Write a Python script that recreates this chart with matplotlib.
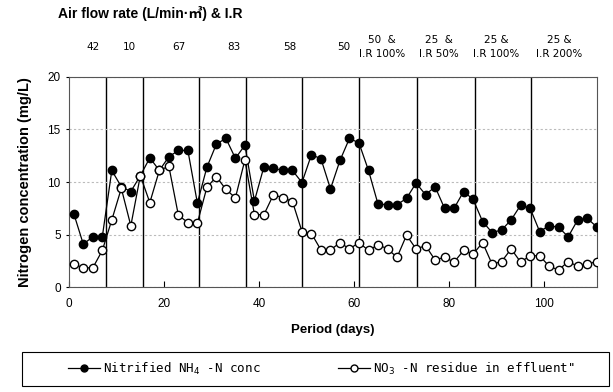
import matplotlib
matplotlib.use('Agg')
import matplotlib.pyplot as plt
from matplotlib.patches import Rectangle
from matplotlib.transforms import blended_transform_factory

plt.rcParams['font.family'] = ['Liberation Sans', 'Noto Sans CJK KR']

# sampling days (every 2 days)
dias = list(range(1, 112, 2))

# Nitrified NH4-N (filled)
nh4 = [7.0, 4.1, 4.8, 4.8, 11.1, 9.55, 9.1, 10.6, 12.3, 11.1,
       12.4, 13.0, 13.0, 8.0, 11.4, 13.6, 14.15, 12.25, 13.5, 8.2,
       11.45, 11.3, 11.1, 11.1, 9.95, 12.6, 12.2, 9.35, 12.05, 14.15,
       13.7, 11.1, 7.9, 7.85, 7.85, 8.45, 9.9, 8.8, 9.55, 7.5,
       7.5, 9.1, 8.35, 6.25, 5.2, 5.45, 6.4, 7.8, 7.5, 5.3,
       5.85, 5.7, 4.8, 6.4, 6.55, 5.75]

# NO3-N residue (open)
no3 = [2.2, 1.85, 1.85, 3.5, 6.4, 9.4, 5.85, 10.6, 8.05, 11.1,
       11.5, 6.85, 6.15, 6.1, 9.5, 10.5, 9.3, 8.5, 12.1, 6.9,
       6.9, 8.8, 8.5, 8.15, 5.3, 5.1, 3.55, 3.55, 4.25, 3.65,
       4.25, 3.5, 4.05, 3.65, 2.85, 4.95, 3.65, 3.95, 2.6, 2.85,
       2.4, 3.5, 3.15, 4.25, 2.2, 2.45, 3.65, 2.4, 3.0, 3.0,
       2.0, 1.65, 2.45, 2.0, 2.2, 2.45]

# condition changes (days) and labels on top
limites = [7.7, 15.5, 27.3, 37.3, 49.0, 61.1, 73.2, 85.3, 97.1]
rotulos = ['42', '10', '67', '83', '58', '50',
           '50  &\nI.R 100%', '25  &\nI.R 50%', '25 &\nI.R 100%', '25 &\nI.R 200%']
pos_rotulos = [5.0, 12.6, 23.2, 34.7, 46.5, 57.8, 65.9, 77.9, 89.9, 103.1]

fig = plt.figure(figsize=(6.13, 3.92), dpi=100)
ax = fig.add_axes([0.1126, 0.267, 0.8608, 0.5373])

for d in limites:
    ax.axvline(d, color='k', lw=1.0, zorder=1)

ax.plot(dias, nh4, color='k', lw=0.9, marker='o', ms=6, mfc='k', mec='k', zorder=3,
        label='Nitrified NH$_4$ -N conc')
ax.plot(dias, no3, color='k', lw=0.9, marker='o', ms=6, mfc='white', mec='k', zorder=4,
        label='NO$_3$ -N residue in effluent"')

ax.set_xlim(0, 111)
ax.set_ylim(0, 20)
ax.set_xticks([0, 20, 40, 60, 80, 100])
ax.set_yticks([0, 5, 10, 15, 20])
ax.tick_params(axis='x', direction='in', length=4, labelsize=8.5, pad=8)
ax.tick_params(axis='y', direction='out', length=2, labelsize=8.5, pad=4)
ax.yaxis.grid(True, linestyle=(0, (2, 2)), color='#bbbbbb', lw=0.8)
for s in ax.spines.values():
    s.set_color('#555555')

ax.set_xlabel('Period (days)', fontweight='bold', fontsize=9.5, labelpad=10)
ax.set_ylabel('Nitrogen concentration (mg/L)', fontweight='bold', fontsize=10.5, labelpad=11)

# top labels
tr = blended_transform_factory(ax.transData, fig.transFigure)
for x, t in zip(pos_rotulos, rotulos):
    ax.text(x, 0.881, t, transform=tr, ha='center', va='center', fontsize=7.5,
            linespacing=1.5, family=['DejaVu Sans', 'Noto Sans CJK KR'])

fig.text(0.095, 0.966, 'Air flow rate (L/min\u00b7\u33a5) & I.R', fontweight='bold',
         fontsize=10, va='center')

# legend box
fig.patches.append(Rectangle((0.036, 0.015), 0.958, 0.088, transform=fig.transFigure,
                             fill=False, edgecolor='k', lw=0.8))
leg = fig.legend(loc='center left', bbox_to_anchor=(0.093, 0.059), ncol=2, frameon=False,
                 handlelength=2.5, handletextpad=0.3, columnspacing=6.2,
                 prop={'family': ['DejaVu Sans Mono', 'Noto Sans CJK KR'], 'size': 9})
for h in leg.legend_handles:
    h.set_markersize(5)

plt.savefig('out.png', dpi=100)
